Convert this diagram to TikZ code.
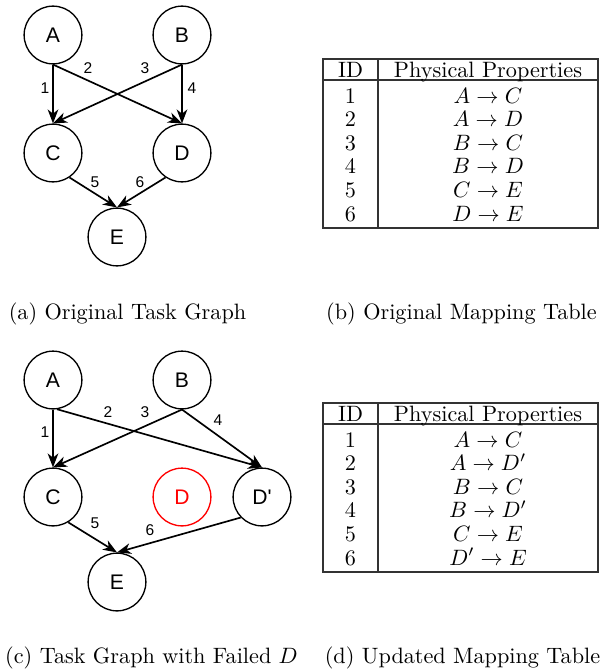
\documentclass[tikz,border=0pt]{standalone}
\usepackage{fontspec}
\newfontfamily\graphfont{Liberation Sans}
\usetikzlibrary{arrows.meta}

\begin{document}
\begin{tikzpicture}[x=0.45pt, y=-0.45pt, >={Stealth[length=6.3pt, width=4.8pt, inset=1.9pt]},
  task/.style={circle, draw, line width=0.6pt, minimum size=26pt, inner sep=0pt, font=\graphfont\fontsize{9.5}{10}\selectfont},
  failed/.style={task, draw=red, text=red},
  edge/.style={->, line width=0.75pt},
  elabel/.style={font=\graphfont\fontsize{7}{8}\selectfont, inner sep=0pt},
  rule/.style={line width=0.5pt, draw=black!80},
  cell/.style={anchor=base, inner sep=0pt, text height=7.4pt, text depth=2.2pt},
  caption/.style={anchor=base, inner sep=0pt}
]
\useasboundingbox (0,0) rectangle (603,672);

% (a) original task graph
\node[task] (a1) at (53,35) {A};
\node[task] (b1) at (182,35) {B};
\node[task] (c1) at (53,153) {C};
\node[task] (d1) at (182,153) {D};
\node[task] (e1) at (117,237) {E};
\draw[edge] (a1.south) -- (c1.north);
\draw[edge] (a1.south) -- (d1.north);
\draw[edge] (b1.south) -- (c1.north);
\draw[edge] (b1.south) -- (d1.north);
\draw[edge] (c1.-56) -- (e1.north);
\draw[edge] (d1.-124) -- (e1.north);
\node[elabel] (l1) at (45,88) {1};
\node[elabel] (l2) at (88,68) {2};
\node[elabel] (l3) at (145,68) {3};
\node[elabel] (l4) at (192,88) {4};
\node[elabel] (l5) at (95,182) {5};
\node[elabel] (l6) at (140,182) {6};

% (b) original mapping table
\draw[rule] (323,59) rectangle (598,228);
\draw[rule] (323,80) -- (598,80);
\draw[rule] (378,59) -- (378,228);
\node[cell] (hb1) at (350.5,77) {ID};
\node[cell] (hb2) at (488,77) {Physical Properties};
\foreach \i/\p in {1/A\to C, 2/A\to D, 3/B\to C, 4/B\to D, 5/C\to E, 6/D\to E} {
  \node[cell] (ib\i) at (350.5,{103+23.6*(\i-1)}) {\i};
  \node[cell] (pb\i) at (488,{103+23.6*(\i-1)}) {$\p$};
}

% (c) task graph with failed D
\node[task] (a2) at (53,380) {A};
\node[task] (b2) at (182,380) {B};
\node[task] (c2) at (53,497) {C};
\node[failed] (d2) at (182,497) {D};
\node[task] (dp2) at (262,497) {D'};
\node[task] (e2) at (117,582) {E};
\draw[edge] (a2.south) -- (c2.north);
\draw[edge] (a2.-82) -- (dp2.north);
\draw[edge] (b2.south) -- (c2.north);
\draw[edge] (b2.south) -- (dp2.north);
\draw[edge] (c2.-59) -- (e2.north);
\draw[edge] (dp2.-136) -- (e2.north);
\node[elabel] (m1) at (45,432) {1};
\node[elabel] (m2) at (108,412) {2};
\node[elabel] (m3) at (145,412) {3};
\node[elabel] (m4) at (218,420) {4};
\node[elabel] (m5) at (95,523) {5};
\node[elabel] (m6) at (150,530) {6};

% (d) updated mapping table
\draw[rule] (323,403) rectangle (598,572);
\draw[rule] (323,424) -- (598,424);
\draw[rule] (378,403) -- (378,572);
\node[cell] (hd1) at (350.5,421) {ID};
\node[cell] (hd2) at (488,421) {Physical Properties};
\foreach \i/\p in {1/A\to C, 2/A\to D', 3/B\to C, 4/B\to D', 5/C\to E, 6/D'\to E} {
  \node[cell] (id\i) at (350.5,{447+23.6*(\i-1)}) {\i};
  \node[cell] (pd\i) at (488,{447+23.6*(\i-1)}) {$\p$};
}

% captions
\node[caption] (capa) at (127.5,319) {(a) Original Task Graph};
\node[caption] (capb) at (461.5,319) {(b) Original Mapping Table};
\node[caption] (capc) at (151.5,663) {(c) Task Graph with Failed $D$};
\node[caption] (capd) at (462.5,663) {(d) Updated Mapping Table};
\end{tikzpicture}
\end{document}
